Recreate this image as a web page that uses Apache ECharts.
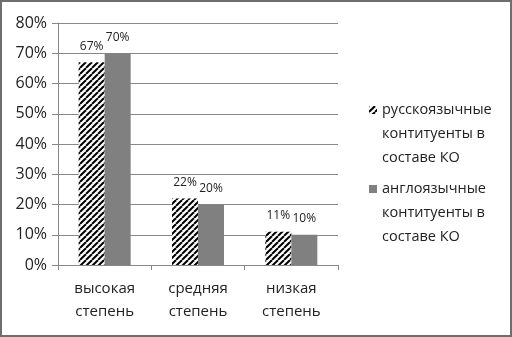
<!DOCTYPE html>
<html><head><meta charset="utf-8">
<script src="https://cdn.jsdelivr.net/npm/echarts@6/dist/echarts.min.js"></script>
<style>html,body{margin:0;padding:0;background:#fff}#c{width:512px;height:337px;box-sizing:border-box;border:2px solid #6e6e6e}</style>
</head><body><div id="c"></div>
<script>
const categories = ['высокая\nстепень', 'средняя\nстепень', 'низкая\nстепень'];
const seriesNames = ['русскоязычные\nконтитуенты в\nсоставе КО', 'англоязычные\nконтитуенты в\nсоставе КО'];
const russianValues = [67, 22, 11];
const englishValues = [70, 20, 10];
const yTicks = [0, 10, 20, 30, 40, 50, 60, 70, 80];

function hatch() {
  const c = document.createElement('canvas');
  c.width = 6; c.height = 6;
  const g = c.getContext('2d');
  g.fillStyle = '#fff'; g.fillRect(0, 0, 6, 6);
  g.strokeStyle = '#000'; g.lineWidth = 2;
  for (let k = -6; k <= 12; k += 6) {
    g.beginPath(); g.moveTo(k, 6); g.lineTo(k + 6, 0); g.stroke();
  }
  return c;
}
const font = '"Open Sans", sans-serif';
const pat = { image: hatch(), repeat: 'repeat' };
const legendColors = [pat, '#808080'];
const legendTops = [96, 175];
const graphic = [];
seriesNames.forEach((n, i) => {
  graphic.push({ type: 'rect', left: 367, top: legendTops[i] + 8, shape: { width: 8, height: 8 }, style: { fill: legendColors[i] } });
  graphic.push({ type: 'text', left: 380, top: legendTops[i], style: { text: n, font: '14.5px ' + font, fill: '#222', lineHeight: 24 } });
});
const chart = echarts.init(document.getElementById('c'));
chart.setOption({
  animation: false,
  textStyle: { fontFamily: font },
  grid: { left: 56, right: 172, top: 21, bottom: 70 },
  graphic: graphic,
  xAxis: {
    type: 'category', data: categories,
    axisLine: { lineStyle: { color: '#888' } },
    axisTick: { show: true, length: 5, lineStyle: { color: '#888' } },
    axisLabel: { fontSize: 15, color: '#222', lineHeight: 23, margin: 12 }
  },
  yAxis: {
    type: 'value', min: 0, max: 80, interval: 10,
    axisLine: { show: true, lineStyle: { color: '#888' } },
    axisTick: { show: true, length: 6, lineStyle: { color: '#888' } },
    splitLine: { lineStyle: { color: '#888' } },
    axisLabel: { fontSize: 16, color: '#222', margin: 11, formatter: v => yTicks.includes(v) ? v + '%' : '' }
  },
  series: [
    { name: seriesNames[0], type: 'bar', data: russianValues, barWidth: 26, barGap: '0%',
      itemStyle: { color: pat },
      label: { show: true, position: 'top', distance: 10, fontSize: 12, color: '#222', formatter: p => p.value + '%' } },
    { name: seriesNames[1], type: 'bar', data: englishValues, barWidth: 26,
      itemStyle: { color: '#808080' },
      label: { show: true, position: 'top', distance: 10, fontSize: 12, color: '#222', formatter: p => p.value + '%' } }
  ]
});
</script></body></html>
